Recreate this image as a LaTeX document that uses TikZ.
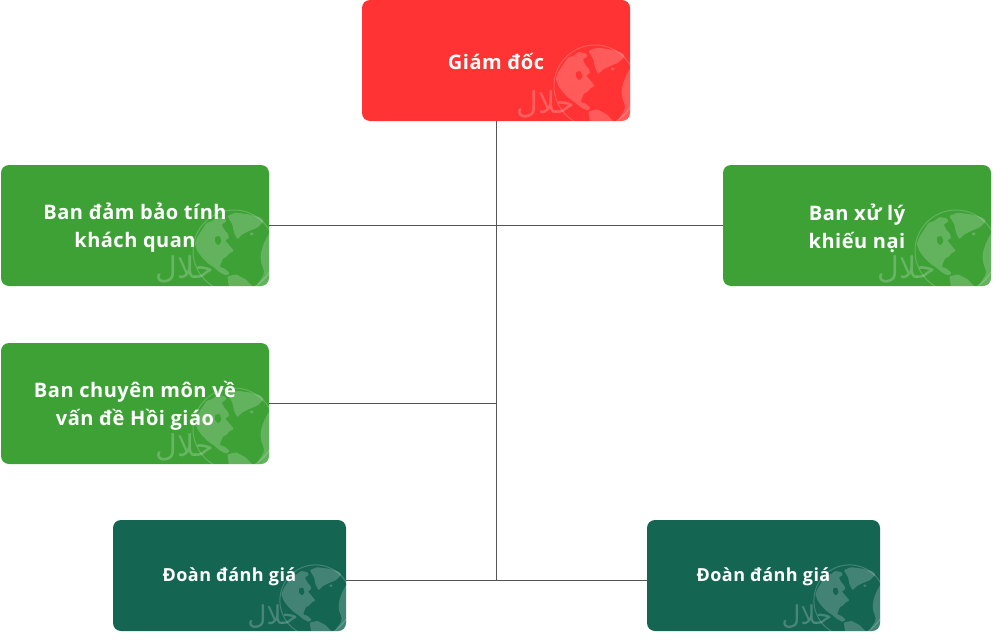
\documentclass[tikz,border=0pt]{standalone}
\usepackage{fontspec}
\setmainfont{Open Sans}[LetterSpace=2.5]
\newfontfamily\arabicfont[Script=Arabic]{DejaVu Sans}
\TeXXeTstate=1
\definecolor{redbox}{HTML}{FF3333}
\definecolor{greenbox}{HTML}{3DA136}
\definecolor{darkbox}{HTML}{156553}
\definecolor{linec}{HTML}{555555}
\tikzset{
  label/.style={text=white,font=\bfseries\fontsize{20}{28}\selectfont,align=center,inner sep=0pt},
  labelsm/.style={label,font=\bfseries\fontsize{18}{24}\selectfont},
  conn/.style={draw=linec,line width=0.9pt},
  land/.style={fill=white,fill opacity=0.2,draw=none,rounded corners=1pt},
  ringl/.style={draw=white,draw opacity=0.2,line width=1pt},
}
% #1 left, #2 top, #3 right, #4 bottom, #5 colour, #6 watermark scale, #7 watermark text size
\newcommand{\orgbox}[7]{%
  \fill[#5,rounded corners=8pt] (#1,#2) rectangle (#3,#4);
  \begin{scope}
    \clip[rounded corners=8pt] (#1,#2) rectangle (#3,#4);
    \begin{scope}[shift={(#3,#4)},scale=#6,shift={(-360,-255)}]
      \draw[ringl] (255,150) circle (123);
      \fill[land] (365,90) .. controls (345,120) and (335,150) .. (335,170) .. controls (335,195) and (350,205) .. (342,225) -- (320,258) -- (365,258) -- cycle;
      \fill[land,even odd rule] (137,128) -- (145,108) -- (158,88) -- (172,66) -- (190,60) -- (205,48) -- (228,52) -- (232,62) -- (218,70) -- (225,85) -- (238,100) -- (240,112) -- (228,118) -- (240,132) -- (255,150) -- (242,156) -- (232,168) -- (222,172) -- (216,186) -- (212,198) -- (226,202) -- (242,216) -- (232,224) -- (212,214) -- (196,200) -- (178,188) -- (158,168) -- (145,150) -- cycle
        (197,108) -- (212,104) -- (218,122) -- (208,134) -- (198,124) -- cycle;
      \fill[land] (235,45) -- (260,35) -- (300,40) -- (335,50) -- (345,60) -- (325,80) -- (300,90) -- (280,100) -- (265,115) -- (255,95) -- (250,70) -- cycle;
      \fill[land] (302,95) -- (314,95) -- (312,103) -- (304,103) -- cycle;
      \fill[land] (235,226) -- (262,220) -- (290,235) -- (312,258) -- (240,258) -- cycle;
      \node[text=white,text opacity=0.22,font=\arabicfont\fontsize{#7}{#7}\selectfont,inner sep=0pt] at (108,205) {\beginR حلال\endR};
    \end{scope}
  \end{scope}
}
\begin{document}
\begin{tikzpicture}[x=1pt,y=-1pt]
\useasboundingbox (0,0) rectangle (1002,642);
\fill[white] (0,0) rectangle (1002,642);
\orgbox{362}{0}{630}{121}{redbox}{0.3333}{30}
\orgbox{1}{165}{269}{286}{greenbox}{0.3333}{30}
\orgbox{723}{165}{991}{286}{greenbox}{0.3333}{30}
\orgbox{1}{343}{269}{464}{greenbox}{0.3333}{30}
\orgbox{113}{520}{346}{631}{darkbox}{0.29}{26}
\orgbox{647}{520}{880}{631}{darkbox}{0.29}{26}
\coordinate (t) at (496,121);
\coordinate (jc) at (496,403.5);
\coordinate (jde) at (496,580.5);
\coordinate (aR) at (269,225.5);
\coordinate (bL) at (723,225.5);
\coordinate (cR) at (269,403.5);
\coordinate (dR) at (346,580.5);
\coordinate (eL) at (647,580.5);
\draw[conn] (t) -- (jde);
\draw[conn] (aR) -- (bL);
\draw[conn] (cR) -- (jc);
\draw[conn] (dR) -- (eL);
\node[label] (lgd) at (496,61) {Giám đốc};
\node[label] (la) at (135,228) {Ban đảm bảo tính\\khách quan};
\node[label] (lb) at (857,228) {Ban xử lý\\khiếu nại};
\node[label] (lc) at (135,406) {Ban chuyên môn về\\vấn đề Hồi giáo};
\node[labelsm] (ld) at (229.5,577) {Đoàn đánh giá};
\node[labelsm] (le) at (763.5,577) {Đoàn đánh giá};
\end{tikzpicture}
\end{document}
